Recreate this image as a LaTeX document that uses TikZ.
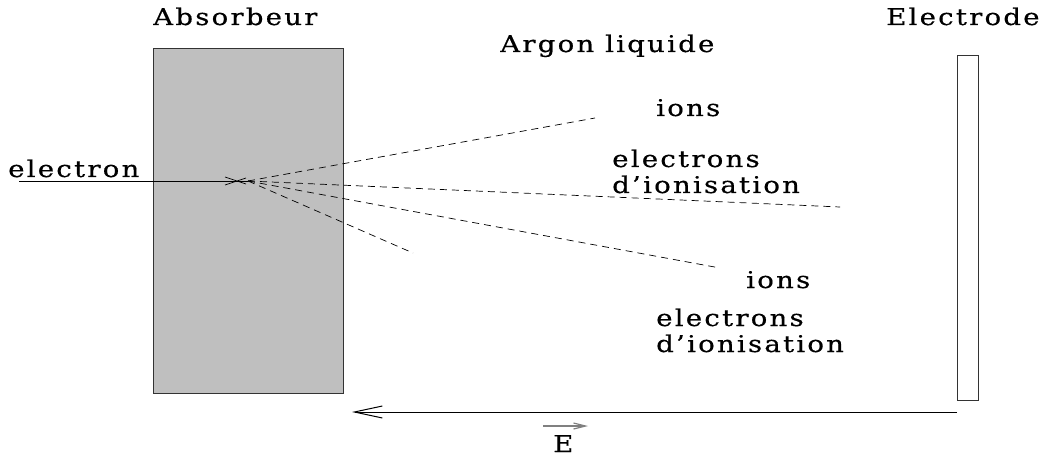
\documentclass[tikz,border=0pt]{standalone}
\usepackage{fontspec}
\usetikzlibrary{arrows.meta}
\newfontfamily\figfont[LetterSpace=8,FakeBold=0.4]{DejaVu Serif}
\tikzset{
  lbl/.style={inner sep=0pt, anchor=base west, font=\figfont\fontsize{23}{26}\selectfont, xscale=1.2, transform shape, align=left},
  dashline/.style={line width=0.7pt, dash pattern=on 7pt off 5pt},
  plate/.style={draw=black!80, line width=1pt, inner sep=0pt},
}
\begin{document}
\begin{tikzpicture}[x=1pt,y=-1pt]
\useasboundingbox (0,0) rectangle (1043,457);
% plates
\node[plate, fill=gray!50, minimum width=190pt, minimum height=345pt, anchor=north west] (abs) at (153,48) {};
\node[plate, minimum width=21pt, minimum height=345pt, anchor=north west] (elec) at (957,55) {};
% labels
\node[lbl] (tabs) at (153,25) {Absorbeur};
\node[lbl] (targ) at (500,52) {Argon liquide};
\node[lbl] (telec) at (886,25) {Electrode};
\node[lbl] (tel) at (8,177) {electron};
\node[lbl] (ions1) at (656,116) {ions};
\node[lbl] (eli1) at (612,193) {electrons\\d’ionisation};
\node[lbl] (ions2) at (746,288) {ions};
\node[lbl] (eli2) at (656,352) {electrons\\d’ionisation};
\node[lbl] (tE) at (553,452) {E};
% electron track
\coordinate (in) at (19,181);
\coordinate (o) at (248,181);
\draw[line width=0.7pt] (in) -- (o);
\coordinate (x1) at (225,177);
\coordinate (x2) at (246,184);
\coordinate (x3) at (225,185);
\coordinate (x4) at (246,178);
\draw[line width=0.7pt] (x1) -- (x2) (x3) -- (x4);
% secondary tracks
\coordinate (e1) at (595,118);
\coordinate (e2) at (840,207);
\coordinate (e3) at (720,268);
\coordinate (e4) at (413,253);
\draw[dashline] (o) -- (e1);
\draw[dashline] (o) -- (e2);
\draw[dashline] (o) -- (e3);
\draw[dashline] (o) -- (e4);
% field
\coordinate (ftip) at (352,412);
\draw[line width=1pt, -{Straight Barb[length=28pt,width=12pt,line width=1pt]}] (elec.south west |- 0,412) -- (ftip);
\coordinate (ea) at (543,426);
\coordinate (eb) at (588,426);
\draw[gray, line width=1.2pt, -{Straight Barb[length=12pt,width=6pt]}] (ea) -- (eb);
\end{tikzpicture}
\end{document}
